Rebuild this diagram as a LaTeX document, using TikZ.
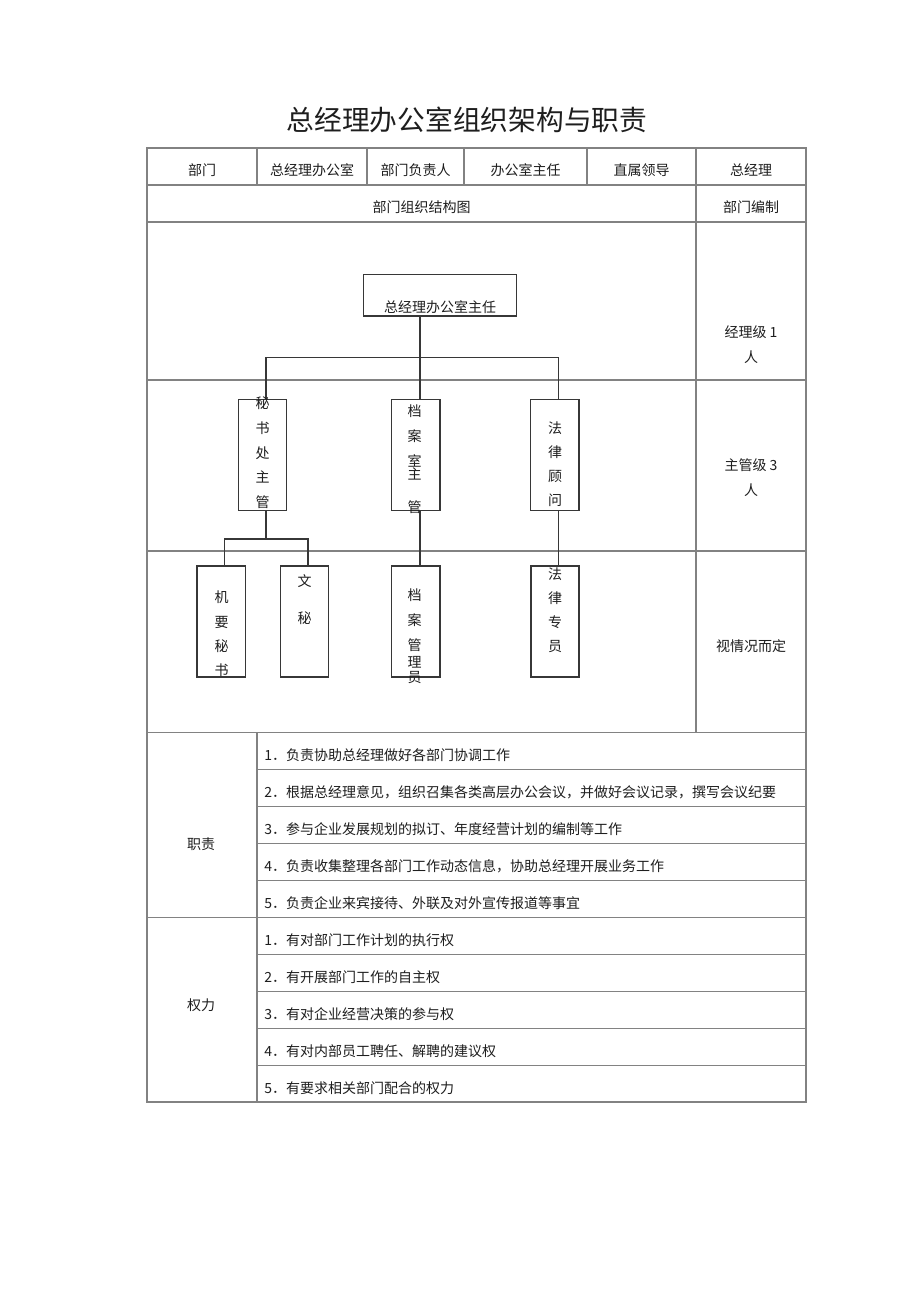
\documentclass[tikz,border=0pt]{standalone}
\usepackage{fontspec}
\setmainfont{Noto Sans CJK SC}
\definecolor{tablegray}{RGB}{130,130,130}
\definecolor{boxgray}{RGB}{55,55,55}
\definecolor{ink}{RGB}{30,30,30}
\begin{document}
\begin{tikzpicture}[x=0.75pt,y=-0.75pt,
  grid/.style={draw=tablegray, line width=1.0pt},
  orgbox/.style={draw=boxgray, line width=1.1pt, inner sep=0pt, minimum height={111.2*0.75pt}, minimum width={48.4*0.75pt}},
  link/.style={draw=boxgray, line width=1.1pt},
  txt/.style={inner sep=0pt, text height=0.88em, text depth=0.12em, text=ink, font=\fontsize{10.5pt}{12pt}\selectfont},
  lefttxt/.style={txt, anchor=west},
  titletxt/.style={inner sep=0pt, text height=0.88em, text depth=0.12em, text=ink, font=\fontsize{20.8pt}{24pt}\selectfont}]
\useasboundingbox (0,0) rectangle (920,1301);
\fill[white] (0,0) rectangle (920,1301);

% title
\node[titletxt] (title) at (467,125) {总经理办公室组织架构与职责};

% table grid
\draw[grid] (147,148) rectangle (806,1102);
\foreach \yy in {185,222,380,551,732.5,917.3}{\draw[grid] (147,\yy) -- (806,\yy);}
\foreach \yy in {769.5,806.5,843.5,880.5,954.3,991.5,1028.3,1065.3}{\draw[grid] (257,\yy) -- (806,\yy);}
\foreach \xx in {257,367,464,587}{\draw[grid] (\xx,148) -- (\xx,185);}
\draw[grid] (696,148) -- (696,732.5);
\draw[grid] (257,732.5) -- (257,1102);

% header rows
\node[txt] (h1) at (202,170) {部门};
\node[txt] (h2) at (312,170) {总经理办公室};
\node[txt] (h3) at (415.5,170) {部门负责人};
\node[txt] (h4) at (525.5,170) {办公室主任};
\node[txt] (h5) at (641.5,170) {直属领导};
\node[txt] (h6) at (751,170) {总经理};
\node[txt] (r2a) at (421.5,207) {部门组织结构图};
\node[txt] (r2b) at (751,207) {部门编制};

% right column
\node[txt] (q1a) at (751,332) {经理级 1};
\node[txt] (q1b) at (751,357) {人};
\node[txt] (q2a) at (751,465) {主管级 3};
\node[txt] (q2b) at (751,490) {人};
\node[txt] (q3) at (751,646) {视情况而定};

% org chart boxes
\node[orgbox, minimum width={153.4*0.75pt}, minimum height={41.7*0.75pt}] (top) at (440,295.2) {};
\node[txt] (toplbl) at (440,307) {总经理办公室主任};
\node[orgbox] (b1) at (262.5,455) {};
\node[orgbox] (b2) at (415.9,455) {};
\node[orgbox] (b3) at (554.9,455) {};
\node[orgbox] (cA) at (221.2,621.6) {};
\node[orgbox] (cB) at (304.5,621.6) {};
\node[orgbox] (cC) at (415.9,621.6) {};
\node[orgbox] (cD) at (555,621.6) {};

% connectors
\coordinate (k1) at (266,357.5);
\coordinate (k2) at (420,357.5);
\coordinate (k3) at (558.6,357.5);
\draw[link] (top.south -| k2) -- (k2 |- b2.north);
\draw[link] (k1 |- b1.north) -- (k1) -- (k3) -- (k3 |- b3.north);
\coordinate (m1) at (266,539);
\coordinate (mA) at (224.6,539);
\coordinate (mB) at (307.9,539);
\draw[link] (b1.south -| m1) -- (m1);
\draw[link] (mA |- cA.north) -- (mA) -- (mB) -- (mB |- cB.north);
\draw[link] (b2.south -| k2) -- (k2 |- cC.north);
\draw[link] (b3.south -| k3) -- (k3 |- cD.north);

% vertical labels
\foreach \c/\yy [count=\i] in {秘/403,书/428,处/453,主/477,管/502}{\node[txt] (lb1-\i) at (262.5,\yy) {\c};}
\foreach \c/\yy [count=\i] in {档/411.5,案/436,室/461.5,主/474,管/507}{\node[txt] (lb2-\i) at (414.5,\yy) {\c};}
\foreach \c/\yy [count=\i] in {法/428,律/452,顾/476,问/500}{\node[txt] (lb3-\i) at (555,\yy) {\c};}
\foreach \c/\yy [count=\i] in {机/597,要/622,秘/646,书/670}{\node[txt] (lcA-\i) at (221.5,\yy) {\c};}
\foreach \c/\yy [count=\i] in {文/581,秘/618}{\node[txt] (lcB-\i) at (304.6,\yy) {\c};}
\foreach \c/\yy [count=\i] in {档/595,案/620,管/645,理/662,员/677}{\node[txt] (lcC-\i) at (414.5,\yy) {\c};}
\foreach \c/\yy [count=\i] in {法/574,律/598,专/622,员/646}{\node[txt] (lcD-\i) at (555,\yy) {\c};}

% duties
\node[txt] (zz) at (201,844) {职责};
\node[lefttxt] (z1) at (264,755) {1．负责协助总经理做好各部门协调工作};
\node[lefttxt] (z2) at (264,792) {2．根据总经理意见，组织召集各类高层办公会议，并做好会议记录，撰写会议纪要};
\node[lefttxt] (z3) at (264,829) {3．参与企业发展规划的拟订、年度经营计划的编制等工作};
\node[lefttxt] (z4) at (264,866) {4．负责收集整理各部门工作动态信息，协助总经理开展业务工作};
\node[lefttxt] (z5) at (264,903) {5．负责企业来宾接待、外联及对外宣传报道等事宜};

% powers
\node[txt] (qq) at (201,1005) {权力};
\node[lefttxt] (p1) at (264,940) {1．有对部门工作计划的执行权};
\node[lefttxt] (p2) at (264,977) {2．有开展部门工作的自主权};
\node[lefttxt] (p3) at (264,1014) {3．有对企业经营决策的参与权};
\node[lefttxt] (p4) at (264,1051) {4．有对内部员工聘任、解聘的建议权};
\node[lefttxt] (p5) at (264,1088) {5．有要求相关部门配合的权力};
\end{tikzpicture}
\end{document}
